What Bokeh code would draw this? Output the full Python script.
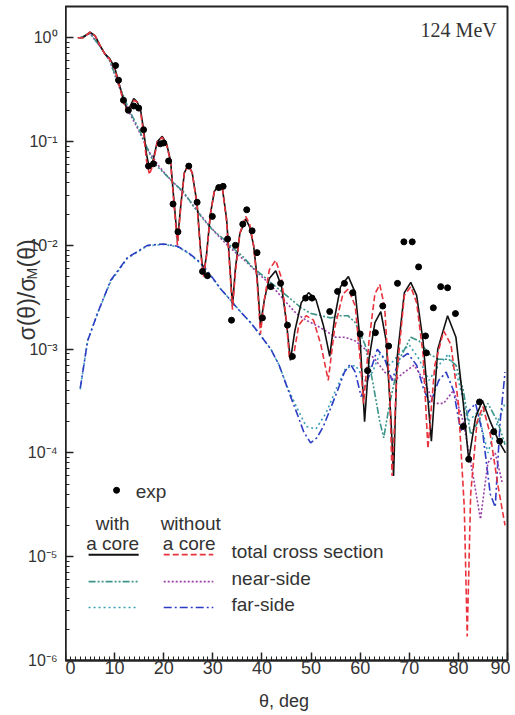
import math
from bokeh.plotting import figure
from bokeh.layouts import row
from bokeh.models import (Label, FixedTicker, SingleIntervalTicker, CustomJSTickFormatter,
                          Range1d, LinearScale)
from bokeh.core.properties import value
from bokeh.embed import file_html
from bokeh.resources import INLINE

# ---------------- data (theta in deg, sigma/sigma_M) ----------------
tot_core_th = [2.5, 3.5, 5.0, 6.0, 7.0, 8.0, 9.0, 10.0, 10.8, 11.8, 12.6, 13.2, 13.9, 14.6, 15.3, 15.9,
               16.5, 17.1, 17.8, 18.7, 19.7, 20.6, 21.4, 22.0, 22.8, 23.5, 24.2, 25.0, 25.8, 26.8,
               27.5, 28.1, 28.7, 29.5, 30.3, 31.2, 32.0, 32.8, 33.5, 34.0, 34.6, 35.5, 36.7, 37.5,
               38.3, 39.0, 39.7, 40.5, 41.5, 42.8, 44.0, 45.0, 45.8, 46.7, 48.0, 49.5, 51.0, 52.5,
               53.8, 54.8, 56.0, 57.6, 59.0, 60.0, 60.9, 61.8, 63.0, 64.2, 65.3, 66.3, 66.8, 67.5,
               69.0, 70.3, 71.5, 72.8, 74.5, 75.8, 77.8, 79.5, 81.0, 82.1, 83.5, 84.9, 86.5, 88.2, 89.6]
tot_core_v = [1.0, 1.0, 1.13, 1.05, 0.85, 0.70, 0.63, 0.52, 0.38, 0.25, 0.20, 0.22, 0.26, 0.24, 0.20, 0.13,
              0.075, 0.055, 0.065, 0.10, 0.112, 0.095, 0.065, 0.030, 0.011, 0.025, 0.050, 0.060, 0.050, 0.025,
              0.009, 0.0052, 0.008, 0.020, 0.033, 0.038, 0.034, 0.018, 0.006, 0.0026, 0.006, 0.013, 0.018, 0.015,
              0.010, 0.005, 0.0017, 0.003, 0.0048, 0.0057, 0.0040, 0.0018, 0.00078, 0.0015, 0.0028, 0.0035, 0.0030, 0.0017,
              0.00085, 0.0020, 0.0040, 0.0050, 0.0035, 0.0012, 0.0002, 0.0008, 0.0018, 0.0023, 0.0012, 0.0002, 0.00006, 0.0008,
              0.0035, 0.0044, 0.0033, 0.0012, 0.00013, 0.0010, 0.0021, 0.0013, 0.0003, 0.000085, 0.00022, 0.00032, 0.0002, 0.00013, 0.0001]

tot_nocore_th = [2.5, 3.5, 5.0, 6.0, 7.0, 8.0, 9.0, 10.0, 10.8, 11.8, 12.6, 13.2, 13.9, 14.6, 15.3, 15.9,
                 16.5, 17.1, 17.8, 18.7, 19.7, 20.6, 21.4, 22.0, 22.8, 23.5, 24.2, 25.0, 25.8, 26.8,
                 27.5, 28.1, 28.7, 29.5, 30.3, 31.2, 32.0, 32.8, 33.5, 34.0, 34.6, 35.5, 36.7, 37.5,
                 38.3, 39.0, 39.7, 40.5, 41.5, 42.8, 44.0, 45.0, 45.6, 46.5, 47.5, 49.0, 50.5, 52.0,
                 53.5, 54.8, 56.5, 57.6, 59.0, 60.0, 60.7, 61.8, 63.0, 64.0, 65.0, 66.0, 66.5, 67.5,
                 69.0, 70.3, 71.5, 72.8, 73.8, 75.2, 77.0, 78.5, 80.0, 81.2, 81.8, 82.5, 83.8, 85.0,
                 86.5, 88.0, 89.5]
tot_nocore_v = [1.0, 1.0, 1.13, 1.05, 0.85, 0.70, 0.62, 0.50, 0.37, 0.24, 0.19, 0.21, 0.25, 0.24, 0.19, 0.12,
                0.065, 0.048, 0.060, 0.10, 0.11, 0.093, 0.063, 0.028, 0.010, 0.024, 0.050, 0.059, 0.050, 0.024,
                0.0085, 0.0050, 0.0078, 0.020, 0.033, 0.038, 0.034, 0.017, 0.0055, 0.0024, 0.0055, 0.013, 0.019, 0.016,
                0.010, 0.0045, 0.0014, 0.003, 0.0058, 0.0072, 0.0048, 0.0018, 0.0008, 0.0009, 0.0017, 0.0021, 0.0019, 0.0011,
                0.0005, 0.0016, 0.0034, 0.0038, 0.0026, 0.0008, 0.0003, 0.0012, 0.0034, 0.0042, 0.0025, 0.0004, 0.00006, 0.0006,
                0.0033, 0.0040, 0.0028, 0.0009, 0.00011, 0.0007, 0.0015, 0.0011, 0.0003, 0.00003, 0.0000017, 0.00004, 0.00020, 0.00028,
                0.00015, 0.00005, 0.00002]

near_core_th = [3.0, 5.0, 7.0, 9.0, 11.0, 13.0, 15.0, 16.7, 18.0, 20.0, 22.0, 24.0, 26.0, 28.0, 30.0, 32.0,
                34.0, 36.0, 38.0, 40.0, 42.0, 44.0, 46.0, 48.0, 50.0, 52.0, 54.0, 56.0, 57.5, 59.0, 61.0,
                62.5, 64.0, 64.8, 66.0, 68.0, 70.3, 72.0, 74.0, 76.0, 78.0, 79.5, 81.0, 82.5, 84.0, 86.0, 88.0, 89.5]
near_core_v = [1.0, 1.1, 0.83, 0.60, 0.34, 0.20, 0.13, 0.085, 0.062, 0.050, 0.040, 0.033, 0.024, 0.018, 0.014, 0.0117,
               0.0095, 0.0079, 0.0062, 0.0052, 0.0043, 0.0036, 0.0030, 0.0025, 0.0022, 0.0021, 0.0020, 0.0021, 0.0021, 0.0018, 0.0011,
               0.0005, 0.0002, 0.00014, 0.0003, 0.0008, 0.0013, 0.0012, 0.0009, 0.0008, 0.0008, 0.0007, 0.0004, 0.00015, 0.0002, 0.0003, 0.0002, 0.00012]

near_nocore_th = [3.0, 5.0, 7.0, 9.0, 11.0, 13.0, 15.0, 17.0, 19.0, 21.0, 23.0, 25.0, 27.0, 29.0, 31.0, 33.0,
                  35.0, 37.0, 39.0, 41.0, 43.0, 45.0, 47.0, 49.0, 51.0, 53.0, 55.0, 57.0, 59.0, 61.0, 63.0,
                  65.0, 67.0, 69.0, 71.0, 73.0, 75.0, 77.0, 79.0, 81.0, 83.0, 84.5, 86.0, 87.5, 89.0]
near_nocore_v = [1.0, 1.1, 0.83, 0.60, 0.33, 0.19, 0.125, 0.080, 0.058, 0.045, 0.036, 0.028, 0.021, 0.016, 0.0125, 0.010,
                 0.0082, 0.0068, 0.0055, 0.0045, 0.0036, 0.0028, 0.0022, 0.0019, 0.0017, 0.0015, 0.0013, 0.0013, 0.0012, 0.0010, 0.0008,
                 0.0006, 0.0005, 0.0006, 0.0007, 0.0005, 0.0003, 0.0003, 0.0004, 0.0002, 0.00006, 0.000023, 0.00008, 0.0001, 0.00005]

far_nocore_th = [3.0, 4.5, 6.5, 9.2, 12.6, 16.7, 20.0, 22.8, 25.0, 27.5, 29.5, 31.6, 33.5, 35.6, 37.7, 39.5,
                 41.8, 43.5, 45.2, 47.0, 48.5, 49.9, 51.2, 52.5, 54.0, 55.4, 56.8, 58.0, 59.0, 60.2, 61.5,
                 63.5, 65.0, 66.5, 68.0, 69.7, 71.5, 73.0, 74.3, 76.0, 77.5, 79.0, 80.5, 82.0, 83.5, 85.0,
                 86.5, 87.5, 88.5, 89.5]
far_nocore_v = [4.2e-4, 0.0012, 0.0022, 0.0046, 0.0076, 0.0100, 0.0103, 0.0098, 0.0085, 0.0068, 0.0052, 0.0038, 0.0030, 0.0023, 0.0018, 0.0014,
                0.0010, 0.0007, 0.00042, 0.00025, 0.00016, 0.000125, 0.00014, 0.00018, 0.00027, 0.0004, 0.0006, 0.00072, 0.0006, 0.00035, 0.0005,
                0.0010, 0.0008, 0.0005, 0.0008, 0.00091, 0.0007, 0.0004, 0.0003, 0.0005, 0.0006, 0.0004, 0.00016, 0.00025, 0.0003, 0.00015,
                0.00004, 0.00003, 0.0002, 0.0006]

far_core_th = [3.0, 4.5, 6.5, 9.2, 12.6, 16.7, 20.0, 22.8, 25.0, 27.5, 29.5, 31.6, 33.5, 35.6, 37.7, 39.5,
               41.8, 43.5, 45.0, 47.0, 49.0, 51.0, 53.0, 55.0, 57.0, 59.0, 61.0, 62.5, 64.0, 66.0, 68.0,
               70.0, 72.0, 74.0, 76.0, 78.0, 80.0, 82.0, 84.0, 86.0, 88.0, 89.5]
far_core_v = [4.1e-4, 0.0012, 0.0022, 0.0045, 0.0075, 0.0099, 0.0102, 0.0097, 0.0084, 0.0067, 0.0051, 0.0038, 0.0030, 0.0023, 0.0018, 0.0014,
              0.0010, 0.0007, 0.00045, 0.00028, 0.00018, 0.00017, 0.00024, 0.0004, 0.00065, 0.0007, 0.0005, 0.0006, 0.0009, 0.0007, 0.0009,
              0.0011, 0.0008, 0.0005, 0.0007, 0.0009, 0.0005, 0.0002, 0.00025, 0.0001, 0.0002, 0.0003]

exp_th = [10.2, 10.8, 11.8, 12.8, 13.9, 14.9, 15.9, 16.9, 17.9, 19.3, 20.0, 21.0, 21.9, 22.9, 25.1, 26.8,
          27.9, 28.9, 29.9, 31.2, 32.1, 33.0, 33.8, 34.6, 36.1, 36.9, 38.0, 39.0, 40.1, 41.8, 43.8, 45.2,
          46.2, 48.9, 50.2, 53.8, 55.4, 56.8, 58.5, 60.0, 61.5, 63.1, 64.6, 65.8, 67.6, 68.9, 70.6, 71.9,
          73.3, 73.5, 74.9, 76.4, 77.8, 79.4, 81.0, 82.1, 84.3, 87.2, 88.4]
exp_v = [0.54, 0.39, 0.25, 0.20, 0.22, 0.21, 0.13, 0.058, 0.061, 0.095, 0.097, 0.065, 0.025, 0.0135, 0.058, 0.026,
         0.0056, 0.0051, 0.019, 0.036, 0.037, 0.0115, 0.0019, 0.010, 0.016, 0.022, 0.0138, 0.0085, 0.0020, 0.0040, 0.0043, 0.0017,
         0.00085, 0.0031, 0.0031, 0.0023, 0.0036, 0.0043, 0.0035, 0.0014, 0.00062, 0.00144, 0.0026, 0.00107, 0.0043, 0.0108, 0.0108, 0.0062,
         0.00134, 0.00092, 0.0025, 0.0040, 0.0039, 0.0022, 0.00018, 0.000087, 0.00031, 0.00016, 0.00013]

y_exponents = [-6, -5, -4, -3, -2, -1, 0]
y_major = [10.0 ** e for e in y_exponents]
x_tick_step = 10
Y_MIN, Y_MAX = 1e-6, 2.0

# ---------------- styles ----------------
C_BLACK = "#111111"
C_RED = "#e8323c"
C_TEAL = "#3b9488"
C_PURPLE = "#9a3fa8"
C_CYAN = "#3aa0b4"
C_BLUE = "#2c3cc4"
FONT = "Liberation Sans"
TXT = "#333333"
SUP = {"0": "\u2070", "1": "\u00b9", "2": "\u00b2", "3": "\u00b3", "4": "\u2074", "5": "\u2075",
       "6": "\u2076", "7": "\u2077", "8": "\u2078", "9": "\u2079", "-": "\u207b"}

LEFT_W = 65
TOP, BOTTOM, H = 6, 54, 714

p = figure(width=510 - LEFT_W, height=H, x_range=(0, 90), y_range=(Y_MIN, Y_MAX),
           y_axis_type="log", output_backend="svg", toolbar_location=None,
           min_border_left=0, min_border_right=3, min_border_top=TOP, min_border_bottom=BOTTOM)
p.grid.visible = False
p.outline_line_color = "#222222"
p.outline_line_width = 2
p.background_fill_color = "white"
p.border_fill_color = "white"

# axes
p.xaxis.ticker = SingleIntervalTicker(interval=x_tick_step, num_minor_ticks=10)
p.yaxis.ticker = FixedTicker(ticks=y_major,
                             minor_ticks=[m * 10.0 ** e for e in range(-6, 1) for m in range(2, 10)])
p.yaxis.formatter = CustomJSTickFormatter(code="return '';")
p.yaxis.major_label_standoff = 0
for ax in (p.xaxis, p.yaxis):
    ax.axis_line_color = "#222222"
    ax.axis_line_width = 2
    ax.major_tick_in = 8
    ax.major_tick_out = 0
    ax.minor_tick_in = 4
    ax.minor_tick_out = 0
    ax.major_tick_line_color = "#222222"
    ax.minor_tick_line_color = "#222222"
    ax.major_tick_line_width = 1.5
    ax.major_label_text_font = FONT
    ax.major_label_text_color = TXT
p.xaxis.major_label_text_font_size = "18px"
p.xaxis.major_label_standoff = 0
p.xaxis.axis_label = "\u03b8,  deg"
p.xaxis.axis_label_text_font = FONT
p.xaxis.axis_label_text_font_size = "18px"
p.xaxis.axis_label_text_font_style = "normal"
p.xaxis.axis_label_text_color = TXT
p.xaxis.axis_label_text_line_height = 0.8
p.xaxis.axis_label_standoff = 14

# curves
p.line(far_core_th, far_core_v, line_color=C_CYAN, line_width=1.6, line_dash="2 3")
p.line(far_nocore_th, far_nocore_v, line_color=C_BLUE, line_width=1.6, line_dash="8 3 2 3")
p.line(near_nocore_th, near_nocore_v, line_color=C_PURPLE, line_width=1.6, line_dash="2 2")
p.line(near_core_th, near_core_v, line_color=C_TEAL, line_width=1.6, line_dash="7 2 2 2 2 2")
p.line(tot_core_th, tot_core_v, line_color=C_BLACK, line_width=1.6)
p.line(tot_nocore_th, tot_nocore_v, line_color=C_RED, line_width=1.6, line_dash="6 3")
p.scatter(exp_th, exp_v, size=6, color="black")

# ---------------- annotations ----------------
p.add_layout(Label(x=87.8, y=1.18, text="124 MeV", text_font="Liberation Serif",
                   text_font_size="20px", text_align="right", text_baseline="middle",
                   text_color=TXT))

# legend
def ylog(e):
    return 10.0 ** e

p.scatter([10.4], [ylog(-4.36)], size=6, color="black")
p.add_layout(Label(x=14.3, y=ylog(-4.37), text="exp", text_font=FONT, text_font_size="19px",
                   text_baseline="middle", text_color=TXT))
for txt, xc, ye in [("with", 9.6, -4.68), ("a core", 9.6, -4.87),
                    ("without", 25.5, -4.68), ("a core", 25.2, -4.87)]:
    p.add_layout(Label(x=xc, y=ylog(ye), text=txt, text_font=FONT, text_font_size="19px",
                       text_align="center", text_baseline="middle", text_color=TXT))
rows = [(-4.98, "total cross section"), (-5.24, "near-side"), (-5.49, "far-side")]
for ye, txt in rows:
    p.add_layout(Label(x=33.8, y=ylog(ye + 0.03), text=txt, text_font=FONT, text_font_size="19px",
                       text_baseline="middle", text_color=TXT))
p.line([4.7, 14.9], [ylog(rows[0][0])] * 2, line_color=C_BLACK, line_width=2)
p.line([20.0, 30.1], [ylog(rows[0][0])] * 2, line_color=C_RED, line_width=1.6, line_dash="6 3")
p.line([4.7, 14.9], [ylog(rows[1][0])] * 2, line_color=C_TEAL, line_width=1.6, line_dash="7 2 2 2 2 2")
p.line([20.0, 30.1], [ylog(rows[1][0])] * 2, line_color=C_PURPLE, line_width=1.6, line_dash="2 2")
p.line([4.7, 14.9], [ylog(rows[2][0])] * 2, line_color=C_CYAN, line_width=1.6, line_dash="2 3")
p.line([20.0, 30.1], [ylog(rows[2][0])] * 2, line_color=C_BLUE, line_width=1.6, line_dash="8 3 2 3")

# ---------------- left strip: y tick labels + y axis title ----------------
can_unalign = "frame_align" in figure.properties()
if can_unalign:
    # strip frame covers the whole strip; same log scale as the main frame, extended
    ppd = (H - TOP - BOTTOM) / math.log10(Y_MAX / Y_MIN)
    lab_range = Range1d(Y_MIN * 10 ** (-BOTTOM / ppd), Y_MAX * 10 ** (TOP / ppd))
    lt, lb = 0, 0
else:
    lab_range = p.y_range
    lt, lb = TOP, BOTTOM
lab = figure(width=LEFT_W, height=H, x_range=Range1d(0, LEFT_W), y_range=lab_range,
             y_axis_type="log", x_axis_location=None, y_axis_location=None,
             output_backend="svg", toolbar_location=None,
             min_border_left=0, min_border_right=0, min_border_top=lt, min_border_bottom=lb,
             extra_y_ranges={"px": Range1d(H - lb, lt)},
             extra_y_scales={"px": LinearScale()})
if can_unalign:
    lab.frame_align = False
lab.grid.visible = False
lab.outline_line_color = None
lab.background_fill_color = "white"
lab.border_fill_color = "white"

tick_text = ["10" + "".join(SUP[c] for c in str(e)) for e in y_exponents]
lab.text(x=[57] * len(y_major), y=y_major, text=tick_text, text_align="right",
         text_baseline="middle", text_font=value(FONT), text_font_size=value("16px"),
         text_color=TXT)

# sigma(theta)/sigma_M(theta), written bottom-to-top
ylab_parts = ["\u03c3(\u03b8)/\u03c3", "M", "(\u03b8)"]
ylab_x = [26, 31, 26]
ylab_y = [340, 279, 267]
ylab_size = ["23px", "14px", "23px"]
for t, xx, yy, sz in zip(ylab_parts, ylab_x, ylab_y, ylab_size):
    lab.text(x=[xx], y=[yy], text=[t], angle=math.pi / 2, text_align="left",
             text_baseline="middle", text_font=value(FONT), text_font_size=value(sz),
             text_color=TXT, y_range_name="px")

open("out.html", "w").write(file_html(row(lab, p), INLINE))
